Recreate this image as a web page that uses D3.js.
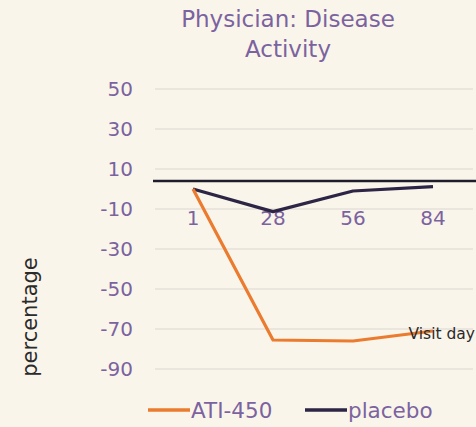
<!DOCTYPE html>
<html>
<head>
<meta charset="utf-8">
<script src="https://cdn.jsdelivr.net/npm/d3@7"></script>
<style>
  html, body { margin: 0; padding: 0; background: #faf5ea; }
  svg { display: block; font-family: "DejaVu Sans", sans-serif; }
</style>
</head>
<body>
<div id="chart"></div>
<script>
// chart data
var visitDays = ["1", "28", "56", "84"];
var atiValues = [0, -75.5, -76, -71];
var placeboValues = [0, -11.3, -1, 1.2];
var yTicks = [50, 30, 10, -10, -30, -50, -70, -90];
var seriesNames = ["ATI-450", "placebo"];
var axisCross = 4;

var width = 476;
var height = 427;
var purple = "#7b63a0";
var colors = ["#eb7b2e", "#2d2545"];

var svg = d3.select("#chart").append("svg")
  .attr("width", width).attr("height", height);

svg.append("rect").attr("width", width).attr("height", height).attr("fill", "#faf5ea");

var x = d3.scaleBand().domain(visitDays).range([153, 473]).padding(0);
var y = d3.scaleLinear().domain([-90, 50]).range([369, 89]);

// title
var title = svg.append("text")
  .attr("text-anchor", "middle")
  .attr("fill", purple)
  .attr("font-size", 23);
title.append("tspan").attr("x", 288).attr("y", 27).text("Physician: Disease");
title.append("tspan").attr("x", 288).attr("y", 57).text("Activity");

// gridlines
svg.append("g").selectAll("line").data(yTicks).enter().append("line")
  .attr("x1", 155).attr("x2", 473)
  .attr("y1", function (d) { return y(d); })
  .attr("y2", function (d) { return y(d); })
  .attr("stroke", "#e5e0d8").attr("stroke-width", 1.3);

// y axis labels (plain hyphen for negatives)
var yAxis = svg.append("g")
  .attr("transform", "translate(133,0)")
  .call(d3.axisLeft(y).tickValues(yTicks).tickSize(0).tickPadding(0)
    .tickFormat(function (d) { return String(d); }));
yAxis.select(".domain").remove();
yAxis.selectAll("text")
  .attr("fill", purple).attr("font-size", 20)
  .attr("font-family", "DejaVu Sans, sans-serif");

// horizontal axis line
svg.append("line")
  .attr("x1", 153).attr("x2", width)
  .attr("y1", y(axisCross)).attr("y2", y(axisCross))
  .attr("stroke", "#1f1d2b").attr("stroke-width", 2.5);

// category labels
svg.append("g").selectAll("text").data(visitDays).enter().append("text")
  .attr("x", function (d) { return x(d) + x.bandwidth() / 2; })
  .attr("y", 225)
  .attr("text-anchor", "middle")
  .attr("fill", purple).attr("font-size", 20)
  .text(function (d) { return d; });

// lines
var line = d3.line()
  .x(function (d, i) { return x(visitDays[i]) + x.bandwidth() / 2; })
  .y(function (d) { return y(d); });

[placeboValues, atiValues].forEach(function (vals, k) {
  svg.append("path")
    .datum(vals)
    .attr("d", line)
    .attr("fill", "none")
    .attr("stroke", k === 0 ? colors[1] : colors[0])
    .attr("stroke-width", 3.2)
    .attr("stroke-linejoin", "round");
});

// axis titles
svg.append("text")
  .attr("x", 475).attr("y", 339)
  .attr("text-anchor", "end")
  .attr("fill", "#2b2b2b").attr("font-size", 15.5)
  .text("Visit day");

svg.append("text")
  .attr("transform", "translate(37,317) rotate(-90)")
  .attr("text-anchor", "middle")
  .attr("fill", "#2b2b2b").attr("font-size", 21)
  .text("percentage");

// legend
var legendX = [148, 305];
var legend = svg.append("g").selectAll("g").data(seriesNames).enter().append("g")
  .attr("transform", function (d, i) { return "translate(" + legendX[i] + ",410)"; });
legend.append("line")
  .attr("x1", 0).attr("x2", 42)
  .attr("stroke", function (d, i) { return colors[i]; })
  .attr("stroke-width", 3.5);
legend.append("text")
  .attr("x", 43).attr("y", 8)
  .attr("fill", purple).attr("font-size", 21.5)
  .text(function (d) { return d; });
</script>
</body>
</html>
